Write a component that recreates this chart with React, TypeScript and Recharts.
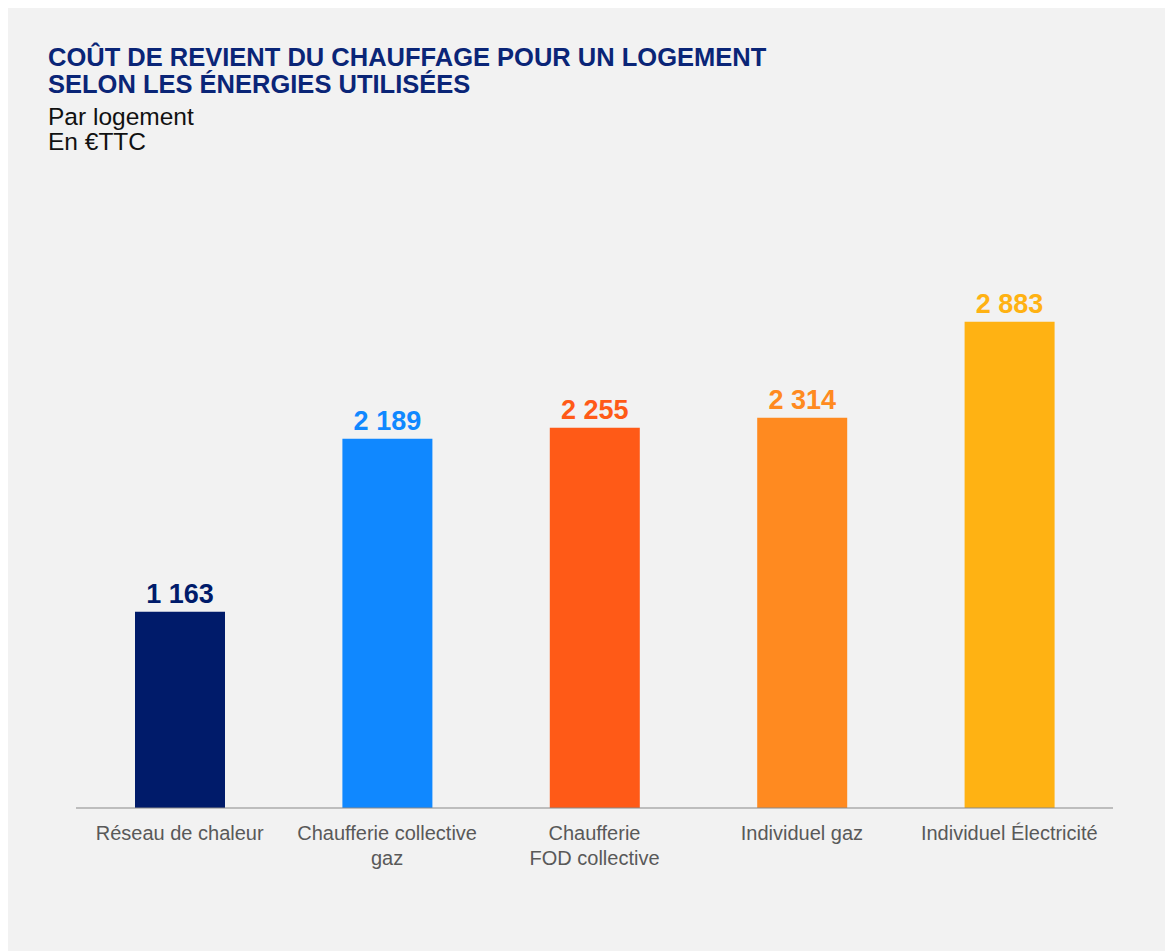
import { BarChart, Bar, XAxis, YAxis, Cell, LabelList } from 'recharts';

const categories = [
  'Réseau de chaleur',
  'Chaufferie collective\ngaz',
  'Chaufferie\nFOD collective',
  'Individuel gaz',
  'Individuel Électricité',
];
const costs = [1163, 2189, 2255, 2314, 2883];
const barColors = ['#001B6A', '#1088FF', '#FF5A17', '#FF8A20', '#FFB213'];

const data = categories.map((name, i) => ({ name, cost: costs[i] }));

const FONT = '"Liberation Sans", Arial, sans-serif';

const fmt = (v: number) => v.toLocaleString('fr-FR').replace(/\s/g, ' ');

const CategoryTick = (props: { x?: number; y?: number; payload?: { value: string } }) => {
  const { x = 0, y = 0, payload } = props;
  if (!payload) return null;
  const lines = payload.value.split('\n');
  return (
    <g>
      {lines.map((line, i) => (
        <text key={i} x={x} y={y + 24 + i * 25} textAnchor="middle"
          style={{ fontFamily: FONT, fontSize: 20, fill: '#595959' }}>
          {line}
        </text>
      ))}
    </g>
  );
};

const ValueLabel = (props: { x?: number; y?: number; width?: number; value?: number; index?: number }) => {
  const { x = 0, y = 0, width = 0, value = 0, index = 0 } = props;
  return (
    <text x={x + width / 2} y={y - 9} textAnchor="middle"
      style={{ fontFamily: FONT, fontSize: 27, fontWeight: 700, fill: barColors[index] }}>
      {fmt(value)}
    </text>
  );
};

export default function App() {
  return (
    <div style={{ position: 'relative', width: 1165, height: 943, background: '#F2F2F2', fontFamily: FONT }}>
      <div style={{ position: 'absolute', left: 40, top: 36, fontSize: 25.5, lineHeight: '27px', fontWeight: 700, color: '#0A2577', whiteSpace: 'nowrap' }}>
        COÛT DE REVIENT DU CHAUFFAGE POUR UN LOGEMENT<br />
        SELON LES ÉNERGIES UTILISÉES
      </div>
      <div style={{ position: 'absolute', left: 40, top: 96, fontSize: 24.5, lineHeight: '25px', color: '#111', whiteSpace: 'nowrap' }}>
        Par logement<br />
        En €TTC
      </div>
      <div style={{ position: 'absolute', left: 0, top: 0 }}>
        <BarChart width={1165} height={943} data={data}
          margin={{ top: 294, right: 60, bottom: 83, left: 68 }}>
          <XAxis dataKey="name" height={60} interval={0} tickLine={false}
            axisLine={{ stroke: '#888888', strokeWidth: 1 }} tick={<CategoryTick />} />
          <YAxis hide domain={[0, 3000]} />
          <Bar dataKey="cost" barSize={90} isAnimationActive={false}>
            {data.map((d, i) => <Cell key={d.name} fill={barColors[i]} />)}
            <LabelList dataKey="cost" content={<ValueLabel />} />
          </Bar>
        </BarChart>
      </div>
    </div>
  );
}
